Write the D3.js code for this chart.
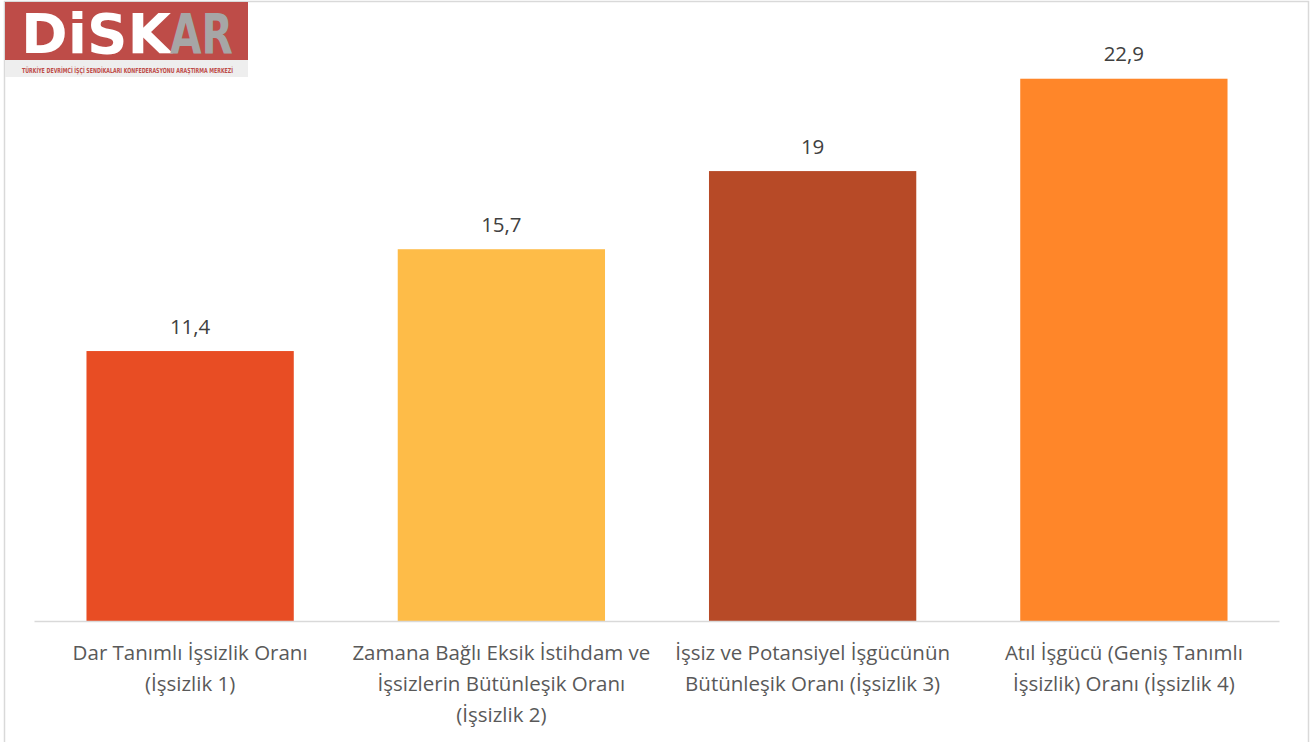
<!DOCTYPE html>
<html lang="tr">
<head>
<meta charset="UTF-8">
<title>İşsizlik Oranları</title>
<script src="https://d3js.org/d3.v7.min.js"></script>
<style>
  body { margin: 0; background: #fff; }
  #chart { width: 1312px; height: 742px; }
</style>
</head>
<body>
<div id="chart"></div>
<script>
// chart data
const categories = [
  ["Dar Tanımlı İşsizlik Oranı", "(İşsizlik 1)"],
  ["Zamana Bağlı Eksik İstihdam ve", "İşsizlerin Bütünleşik Oranı", "(İşsizlik 2)"],
  ["İşsiz ve Potansiyel İşgücünün", "Bütünleşik Oranı (İşsizlik 3)"],
  ["Atıl İşgücü (Geniş Tanımlı", "İşsizlik) Oranı (İşsizlik 4)"]
];
const values = [11.4, 15.7, 19, 22.9];
const valueLabels = ["11,4", "15,7", "19", "22,9"];
const barColors = ["#E84D24", "#FEBC48", "#B74A27", "#FF8629"];

const w = 1312, h = 742;
const svg = d3.select("#chart").append("svg")
  .attr("width", w).attr("height", h);

// outer frame
svg.append("rect")
  .attr("x", 4.5).attr("y", 1.5)
  .attr("width", 1304).attr("height", 745)
  .attr("fill", "#fff").attr("stroke", "#d9d9d9").attr("stroke-width", 1.5);

const idx = d3.range(values.length);
const x = d3.scaleBand()
  .domain(idx)
  .range([34.5, 1279.5])
  .paddingInner(0.334)
  .paddingOuter(0.167);

const y = d3.scaleLinear()
  .domain([0, 25])
  .range([621, 29]);

svg.selectAll("rect.bar")
  .data(idx)
  .enter().append("rect")
  .attr("class", "bar")
  .attr("x", i => x(i))
  .attr("y", i => y(values[i]))
  .attr("width", x.bandwidth())
  .attr("height", i => y(0) - y(values[i]))
  .attr("fill", i => barColors[i]);

// baseline
svg.append("line")
  .attr("x1", 34.5).attr("x2", 1279.5)
  .attr("y1", y(0) + 0.5).attr("y2", y(0) + 0.5)
  .attr("stroke", "#d9d9d9").attr("stroke-width", 1.5);

const font = "'Open Sans', Lato, sans-serif";

// value labels
svg.selectAll("text.val")
  .data(idx)
  .enter().append("text")
  .attr("class", "val")
  .attr("x", i => x(i) + x.bandwidth() / 2)
  .attr("y", i => y(values[i]) - 17.5)
  .attr("text-anchor", "middle")
  .attr("font-family", font)
  .attr("font-size", 20.5)
  .attr("fill", "#404040")
  .text(i => valueLabels[i]);

// category labels
const cat = svg.selectAll("text.cat")
  .data(idx)
  .enter().append("text")
  .attr("class", "cat")
  .attr("text-anchor", "middle")
  .attr("font-family", font)
  .attr("font-size", 20.5)
  .attr("fill", "#595959");
cat.selectAll("tspan")
  .data(i => categories[i].map(t => ({ t, i })))
  .enter().append("tspan")
  .attr("x", d => x(d.i) + x.bandwidth() / 2)
  .attr("y", (d, j) => 660 + j * 31)
  .text(d => d.t);

// logo
const logo = svg.append("g");
logo.append("rect").attr("x", 5).attr("y", 2).attr("width", 243).attr("height", 58).attr("fill", "#BE4C48");
logo.append("rect").attr("x", 5).attr("y", 60).attr("width", 243).attr("height", 17).attr("fill", "#eeeeee");
logo.append("text")
  .attr("x", 21).attr("y", 53)
  .attr("font-family", "'DejaVu Sans', sans-serif")
  .attr("font-weight", "bold")
  .attr("font-size", 56)
  .attr("textLength", 150)
  .attr("lengthAdjust", "spacingAndGlyphs")
  .attr("fill", "#fff")
  .text("DiSK");
logo.append("text")
  .attr("x", 170).attr("y", 53)
  .attr("font-family", "'DejaVu Sans', sans-serif")
  .attr("font-weight", "bold")
  .attr("font-size", 56)
  .attr("textLength", 63)
  .attr("lengthAdjust", "spacingAndGlyphs")
  .attr("fill", "#a6a6a6")
  .text("AR");
logo.append("text")
  .attr("x", 22).attr("y", 73)
  .attr("font-family", "'DejaVu Sans Condensed', sans-serif")
  .attr("font-weight", "bold")
  .attr("font-size", 7)
  .attr("textLength", 211)
  .attr("lengthAdjust", "spacingAndGlyphs")
  .attr("fill", "#BE4C48")
  .text("TÜRKİYE DEVRİMCİ İŞÇİ SENDİKALARI KONFEDERASYONU ARAŞTIRMA MERKEZİ");
</script>
</body>
</html>
